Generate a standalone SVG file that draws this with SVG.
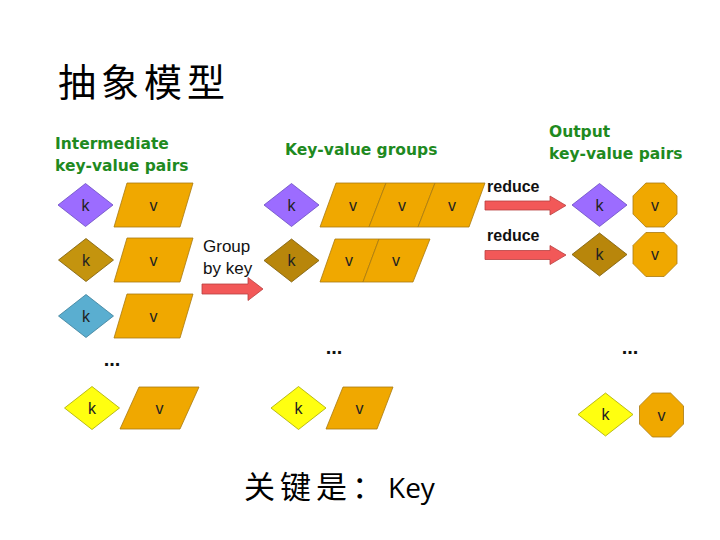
<svg xmlns="http://www.w3.org/2000/svg" xmlns:xlink="http://www.w3.org/1999/xlink" width="720" height="540" viewBox="0 0 720 540">
<style>
.head{font-family:"DejaVu Sans","Liberation Sans",sans-serif;font-weight:bold;font-size:15.5px;fill:#1f8a1f}
.lbl{font-family:"Liberation Sans",Arial,sans-serif;font-size:16px;fill:#222;text-anchor:middle}
.op{font-family:"Liberation Sans",Arial,sans-serif;font-size:17px;fill:#111}
.opb{font-family:"Liberation Sans",Arial,sans-serif;font-size:16px;font-weight:bold;fill:#111}
.dots{font-family:"Liberation Sans",Arial,sans-serif;font-size:20px;font-weight:bold;fill:#111;text-anchor:middle}
.val{fill:#f0a800;stroke:#a87a10;stroke-width:0.8}
.purple{fill:#9c6cff;stroke:#6a4cc0;stroke-width:0.8}
.brown1{fill:#c4940e;stroke:#7a5a08;stroke-width:0.8}
.brown2{fill:#b8860b;stroke:#7a5a08;stroke-width:0.8}
.blue{fill:#5aaed0;stroke:#3a7e98;stroke-width:0.8}
.yellow{fill:#ffff10;stroke:#a8a800;stroke-width:0.8}
.arrow{fill:#f25858;stroke:#b84040;stroke-width:0.8}
.cjk{font-family:"Noto Sans CJK SC","Noto Sans CJK JP",sans-serif;fill:#000}
</style>
<defs>
<polygon id="dia" points="-27.5,0 0,-21.5 27.5,0 0,21.5"/>
<polygon id="oct" points="-9.1,-22 9.1,-22 22,-9.1 22,9.1 9.1,22 -9.1,22 -22,9.1 -22,-9.1"/>
</defs>
<rect width="720" height="540" fill="#fff"/>
<text class="cjk" x="58" y="96" font-size="38" letter-spacing="5">抽象模型</text>
<text class="head" x="55" y="149">Intermediate</text>
<text class="head" x="55" y="171">key-value pairs</text>
<text class="head" x="285" y="155">Key-value groups</text>
<text class="head" x="549" y="137">Output</text>
<text class="head" x="549" y="159">key-value pairs</text>

<g id="in1">
<use href="#dia" x="85.5" y="205" class="purple"/><text class="lbl" x="85.5" y="211">k</text>
<polygon class="val" points="127,183 193,183 180,227 114,227"/><text class="lbl" x="153.5" y="211">v</text>
</g>
<g id="in2">
<use href="#dia" x="86" y="260" class="brown1"/><text class="lbl" x="86" y="266">k</text>
<polygon class="val" points="127,238 193,238 180,282 114,282"/><text class="lbl" x="153.5" y="266">v</text>
</g>
<g id="in3">
<use href="#dia" x="86" y="316" class="blue"/><text class="lbl" x="86" y="322">k</text>
<polygon class="val" points="127,294 193,294 180,338 114,338"/><text class="lbl" x="153.5" y="322">v</text>
</g>
<text class="dots" x="112" y="366">...</text>
<g id="in4">
<use href="#dia" x="92" y="408" class="yellow"/><text class="lbl" x="92" y="414">k</text>
<polygon class="val" points="139,387 199,387 180,429 120,429"/><text class="lbl" x="159.5" y="414">v</text>
</g>

<g id="grp1">
<use href="#dia" x="291.5" y="205" class="purple"/><text class="lbl" x="291.5" y="211">k</text>
<polygon class="val" points="336,183 386,183 369,227 320,227"/><text class="lbl" x="353" y="211">v</text>
<polygon class="val" points="386,183 435,183 418,227 369,227"/><text class="lbl" x="402" y="211">v</text>
<polygon class="val" points="435,183 485,183 469,227 418,227"/><text class="lbl" x="452" y="211">v</text>
</g>
<g id="grp2">
<use href="#dia" x="291.5" y="260.5" class="brown2"/><text class="lbl" x="291.5" y="266">k</text>
<polygon class="val" points="335,239 379,239 363,282 320,282"/><text class="lbl" x="349" y="266">v</text>
<polygon class="val" points="379,239 430,239 413,282 363,282"/><text class="lbl" x="396" y="266">v</text>
</g>
<text class="dots" x="334" y="354">...</text>
<g id="grp3">
<use href="#dia" x="298.5" y="408" class="yellow"/><text class="lbl" x="298.5" y="414">k</text>
<polygon class="val" points="343,387 393,387 377,429 326,429"/><text class="lbl" x="359.5" y="414">v</text>
</g>

<g id="out1">
<use href="#dia" x="599.5" y="205" class="purple"/><text class="lbl" x="599.5" y="211">k</text>
<use href="#oct" x="655" y="205" class="val"/><text class="lbl" x="655" y="211">v</text>
</g>
<g id="out2">
<use href="#dia" x="599.5" y="254.5" class="brown2"/><text class="lbl" x="599.5" y="260">k</text>
<use href="#oct" x="655" y="254.5" class="val"/><text class="lbl" x="655" y="260">v</text>
</g>
<text class="dots" x="630" y="354">...</text>
<g id="out3">
<use href="#dia" x="605.5" y="414.5" class="yellow"/><text class="lbl" x="605.5" y="420">k</text>
<use href="#oct" x="661.5" y="415" class="val"/><text class="lbl" x="661.5" y="421">v</text>
</g>

<g id="connectors">
<polygon class="arrow" points="202,284 248,284 248,277.5 263,289 248,300.5 248,294 202,294"/>
<text class="op" x="203" y="252">Group</text>
<text class="op" x="203" y="274">by key</text>
<polygon class="arrow" points="485,201 550,201 550,196 566,205.5 550,215 550,210 485,210"/>
<text class="opb" x="487" y="192">reduce</text>
<polygon class="arrow" points="485,250.5 550,250.5 550,245.5 566,255 550,264.5 550,259.5 485,259.5"/>
<text class="opb" x="487" y="241">reduce</text>
</g>

<text class="cjk" x="244" y="498" font-size="31" letter-spacing="5">关键是：<tspan font-family="'Open Sans','Liberation Sans',sans-serif" font-size="28" letter-spacing="0">Key</tspan></text>
</svg>
